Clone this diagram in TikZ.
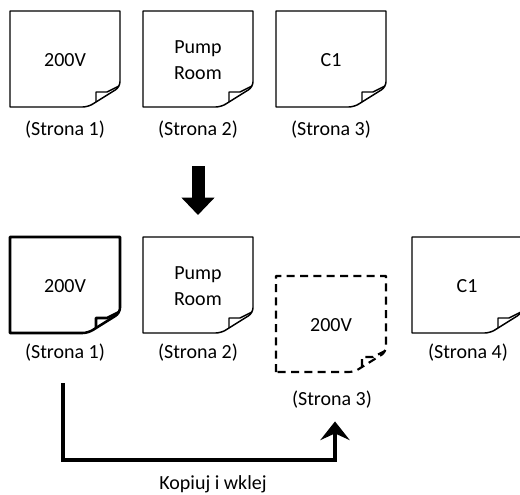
\documentclass[tikz,border=0pt]{standalone}
\usepackage{fontspec}
\setmainfont{Carlito}
\usetikzlibrary{arrows.meta}

\tikzset{
  pics/sheet/.style={code={
    \draw[pic actions, line join=round] (0,0) -- (0,96) -- (110,96) [rounded corners=4pt] -- (110,20) -- (78,0) [sharp corners] -- cycle;
    \draw[pic actions, line join=round] (86,5) -- (86,15) -- (97,15) -- (109,21);
  }}
}

\begin{document}
\begin{tikzpicture}[x=0.75pt, y=0.75pt,
  pagetext/.style={font=\fontsize{15}{19}\selectfont, align=center},
  pagelabel/.style={font=\fontsize{15}{18}\selectfont},
  pasted/.style={dash pattern=on 6pt off 4pt, line width=1.6pt},
  copyarrow/.style={line width=2.3pt, -{Stealth[width=22pt, length=14pt, inset=5pt]}},
  bigarrow/.style={line width=9.75pt, -{Triangle[width=24pt, length=13pt]}}
]
  \useasboundingbox (0,0) rectangle (520,494);

  % Before: three pages
  \foreach \x/\txt/\n in {10/200V/1, 143/{Pump\\Room}/2, 276/C1/3} {
    \pic[line width=1.1pt] at (\x,387) {sheet};
    \node[pagetext] (before\n) at (\x+55,434) {\txt};
    \node[pagelabel] (beforelbl\n) at (\x+55,364) {(Strona \n)};
  }

  % Down arrow
  \coordinate (downfrom) at (198,328);
  \coordinate (downto) at (198,279);
  \draw[bigarrow] (downfrom) -- (downto);

  % After: four pages
  \pic[line width=1.9pt] at (10,161) {sheet};
  \node[pagetext] (after1) at (65,208) {200V};
  \node[pagelabel] (afterlbl1) at (65,141) {(Strona 1)};

  \pic[line width=1.1pt] at (143,161) {sheet};
  \node[pagetext] (after2) at (198,208) {Pump\\Room};
  \node[pagelabel] (afterlbl2) at (198,141) {(Strona 2)};

  \pic[pasted] at (276,122) {sheet};
  \node[pagetext] (after3) at (331,169) {200V};
  \node[pagelabel] (afterlbl3) at (332,94) {(Strona 3)};

  \pic[line width=1.1pt] at (412,161) {sheet};
  \node[pagetext] (after4) at (467,208) {C1};
  \node[pagelabel] (afterlbl4) at (468,141) {(Strona 4)};

  % Copy and paste
  \coordinate (turn) at (63,34);
  \draw[copyarrow] ([shift={(-2,-17)}]afterlbl1.south) -- (turn) -| ([shift={(3,-8)}]afterlbl3.south);
  \node[pagelabel, anchor=base] (copylbl) at (213,5) {Kopiuj i wklej};
\end{tikzpicture}
\end{document}
